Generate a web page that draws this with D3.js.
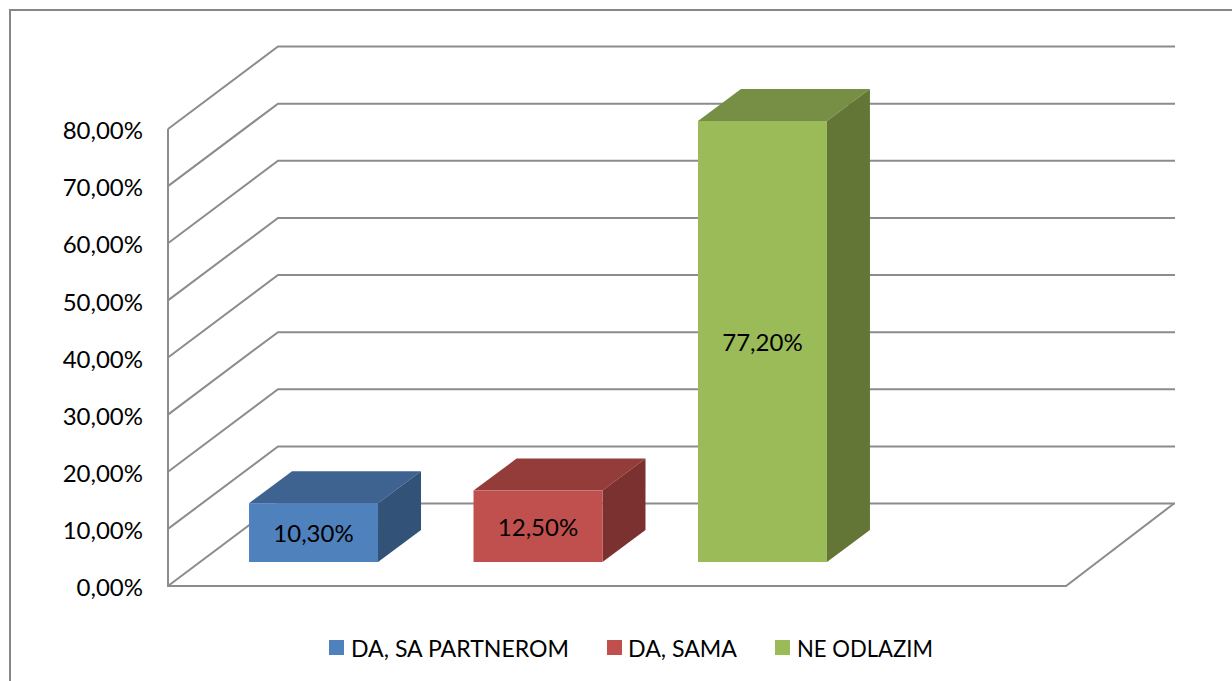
<!DOCTYPE html>
<html>
<head>
<meta charset="utf-8">
<script src="https://cdn.jsdelivr.net/npm/d3@7"></script>
<style>
  html, body { margin: 0; padding: 0; background: #fff; }
  text { font-family: Lato, "Open Sans", sans-serif; fill: #000; }
</style>
</head>
<body>
<div id="chart"></div>
<script>
// values
var categories = ["DA, SA PARTNEROM", "DA, SAMA", "NE ODLAZIM"];
var values = [10.3, 12.5, 77.2];
var valueLabels = ["10,30%", "12,50%", "77,20%"];
var ticks = [0, 10, 20, 30, 40, 50, 60, 70, 80];
var colors = ["#4f81bd", "#c0504d", "#9bbb59"];
var topColors = ["#3e6390", "#943c3a", "#778f45"];
var sideColors = ["#325277", "#7a3130", "#647635"];

var width = 1232, height = 681;

var svg = d3.select("#chart").append("svg")
    .attr("width", width)
    .attr("height", height)
    .style("display", "block");

// outer frame
svg.append("rect")
    .attr("x", 10).attr("y", 10)
    .attr("width", 1300).attr("height", 800)
    .attr("fill", "none")
    .attr("stroke", "#868686")
    .attr("stroke-width", 2);

var yScale = d3.scaleLinear().domain([0, 80]).range([586, 129]);
var xScale = d3.scaleBand().domain(categories).range([168, 908]).paddingInner(0.4254).paddingOuter(0.361);

var floorDx = 110, floorDy = -82.5;
var floorRight = 1066;
var barDx = 43, barDy = -32;
var barBase = 562;
// bars stand on a line above the front floor edge
var barHeight = function (v) { return yScale(0) - yScale(v); };

// gridlines, side wall and back wall
var grid = svg.append("g").attr("fill", "none").attr("stroke", "#8c8c8c").attr("stroke-width", 2);
grid.selectAll("path.wall").data(ticks).enter().append("path")
    .attr("class", "wall")
    .attr("d", function (d) {
        var y = yScale(d);
        return "M168," + y + "L" + (168 + floorDx) + "," + (y + floorDy) + "L1175," + (y + floorDy);
    });

grid.append("path").attr("d", "M168," + yScale(80) + "V" + yScale(0) + "H" + floorRight +
    "L1174," + (yScale(0) + floorDy));

// y axis labels
svg.append("g").selectAll("text").data(ticks).enter().append("text")
    .attr("x", 143)
    .attr("y", function (d) { return yScale(d) + 1.5; })
    .attr("dy", "0.36em")
    .attr("text-anchor", "end")
    .attr("font-size", 24)
    .text(function (d) { return d3.format(".2f")(d).replace(".", ",") + "%"; });

// 3d bars
var bars = svg.append("g").selectAll("g").data(values).enter().append("g");

bars.append("path")
    .attr("fill", function (d, i) { return topColors[i]; })
    .attr("d", function (d, i) {
        var x = xScale(categories[i]), w = xScale.bandwidth(), y = barBase - barHeight(d);
        return "M" + x + "," + y + "l" + barDx + "," + barDy + "h" + w + "l" + (-barDx) + "," + (-barDy) + "Z";
    });

bars.append("path")
    .attr("fill", function (d, i) { return sideColors[i]; })
    .attr("d", function (d, i) {
        var x = xScale(categories[i]) + xScale.bandwidth(), y = barBase - barHeight(d);
        return "M" + x + "," + y + "l" + barDx + "," + barDy + "V" + (barBase + barDy) + "L" + x + "," + barBase + "Z";
    });

bars.append("rect")
    .attr("x", function (d, i) { return xScale(categories[i]); })
    .attr("y", function (d) { return barBase - barHeight(d); })
    .attr("width", xScale.bandwidth())
    .attr("height", function (d) { return barHeight(d); })
    .attr("fill", function (d, i) { return colors[i]; });

bars.append("text")
    .attr("x", function (d, i) { return xScale(categories[i]) + xScale.bandwidth() / 2; })
    .attr("y", function (d) { return barBase - barHeight(d) / 2 + 1; })
    .attr("dy", "0.36em")
    .attr("text-anchor", "middle")
    .attr("font-size", 24)
    .text(function (d, i) { return valueLabels[i]; });

// legend, text squeezed a bit since Lato runs wider than the original font
var legendSwatchX = [329, 607, 775];
var legendTextX = [351, 628, 797];
var legendTextW = [218, 109, 136];

var legend = svg.append("g").selectAll("g").data(categories).enter().append("g");

legend.append("rect")
    .attr("width", 15).attr("height", 15)
    .attr("x", function (d, i) { return legendSwatchX[i]; })
    .attr("y", 640)
    .attr("fill", function (d, i) { return colors[i]; });

legend.append("text")
    .attr("x", function (d, i) { return legendTextX[i]; })
    .attr("y", 648)
    .attr("dy", "0.36em")
    .attr("font-size", 24)
    .attr("textLength", function (d, i) { return legendTextW[i]; })
    .attr("lengthAdjust", "spacingAndGlyphs")
    .text(function (d) { return d; });
</script>
</body>
</html>
